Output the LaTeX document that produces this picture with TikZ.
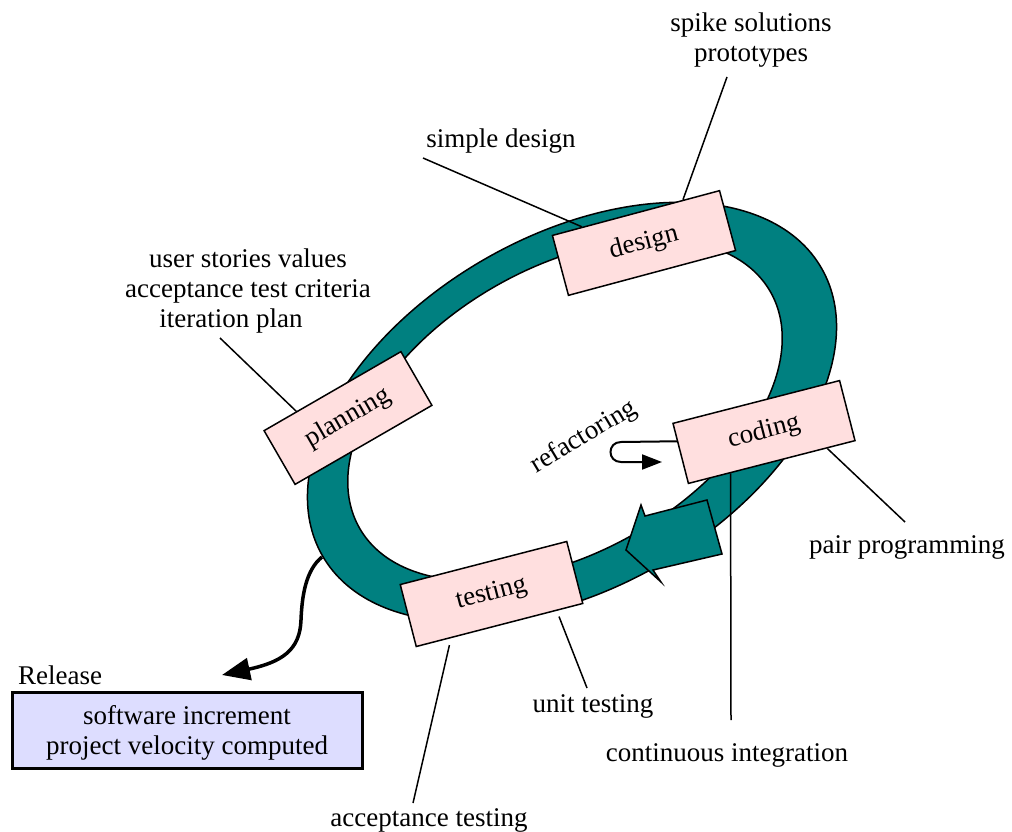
\documentclass[tikz,border=0pt]{standalone}
\usepackage{fontspec}
\setmainfont{Liberation Serif}
\usetikzlibrary{arrows.meta,calc}
\definecolor{ringteal}{HTML}{008080}
\definecolor{phasepink}{HTML}{FFDFDF}
\definecolor{releaseblue}{HTML}{DDDDFF}
\begin{document}
\begin{tikzpicture}[x=1pt,y=-1pt,
  txt/.style={font=\fontsize{27pt}{30pt}\selectfont, inner sep=0pt},
  phase/.style={txt, draw=black, line width=1.5pt, fill=phasepink,
                minimum width=172pt, minimum height=62pt},
  link/.style={line width=1.5pt},
  ringline/.style={draw=black, line width=1.5pt},
]
\useasboundingbox (0,0) rectangle (1012,832);

% the iteration ring
\fill[ringteal, ringline, rotate around={30:(572,412)}]
  (572,412) ellipse [x radius=288, y radius=176];
\fill[white, ringline, rotate around={30:(565,410)}]
  (565,410) ellipse [x radius=237, y radius=142];

% block arrow showing the direction of the cycle
\filldraw[fill=ringteal, ringline, line join=miter]
  (707,500) -- (722,554) -- (653,570) -- (661,582) -- (626,550)
  -- (641,505) -- (645,516) -- cycle;

% phase boxes
\node[phase, minimum width=173pt, rotate=15]   (design)   at (644,243)   {design};
\node[phase, minimum width=158pt, rotate=30]   (planning) at (348,418)   {planning};
\node[phase, rotate=14.4]                      (coding)   at (764,432)   {coding};
\node[phase, minimum height=64pt, rotate=14.5] (testing)  at (491.5,594) {testing};

% practice labels
\node[txt, anchor=north, align=center] (spike) at (751,13) {spike solutions\\prototypes};
\node[txt, anchor=base] (simple) at (501,147) {simple design};
\node[txt, anchor=north, align=center] (plan) at (248,249)
  {user stories values\\acceptance test criteria\\iteration plan\hspace*{34pt}\mbox{}};
\node[txt, rotate=31] (refac) at (584,437) {refactoring};
\node[txt, anchor=base] (pair) at (907,553) {pair programming};
\node[txt, anchor=base] (unit) at (593,712) {unit testing};
\node[txt, anchor=base] (contint) at (727,761) {continuous integration};
\node[txt, anchor=base] (acctest) at (429,826) {acceptance testing};

% release
\node[txt, anchor=base west] (release) at (18,684) {Release};
\node[txt, draw=black, line width=3pt, fill=releaseblue, align=center,
      minimum width=350pt, minimum height=76pt] (increment) at (187,730)
  {\rule{0pt}{25pt}software increment\\project velocity computed};

% leader lines
\coordinate (simpleend) at (423,158);
\coordinate (spikeend)  at (727,77);
\coordinate (planend)   at (220,338);
\coordinate (pairend)   at (905,522);
\coordinate (ciend)     at (731,720);
\coordinate (unitend)   at (587,688);
\coordinate (accend)    at (413,803);

\draw[link] (simpleend) -- ($(design.north west)!0.18!(design.north east)$);
\draw[link] (spikeend)  -- ($(design.north west)!0.78!(design.north east)$);
\draw[link] (planend)   -- ($(planning.north west)!0.24!(planning.north east)$);
\draw[link] ($(coding.south west)!0.83!(coding.south east)$) -- (pairend);
\draw[link] ($(coding.south west)!0.254!(coding.south east)$) -- (ciend);
\draw[link, shorten <=6pt] ($(testing.south west)!0.84!(testing.south east)$) -- (unitend);
\draw[link, shorten <=7pt] ($(testing.south west)!0.21!(testing.south east)$) -- (accend);

% refactoring loop arrow
\coordinate (refstart) at ($(coding.north west)!0.3!(coding.south west)$);
\coordinate (refend) at (662,462);
\draw[line width=2pt, -{Triangle[length=20pt,width=15pt]}]
  (refstart) -- (621,442) .. controls (607,442) and (607,462) .. (621,462) -- (refend);

% release arrow leaving the ring
\coordinate (relstart) at (322,557);
\coordinate (relend) at (222,675);
\draw[line width=3.5pt, -{Triangle[length=28pt,width=22pt]}]
  (relstart) .. controls (306,570) and (302,595) .. (301,620)
  .. controls (300,650) and (282,662) .. (relend);
\end{tikzpicture}
\end{document}
